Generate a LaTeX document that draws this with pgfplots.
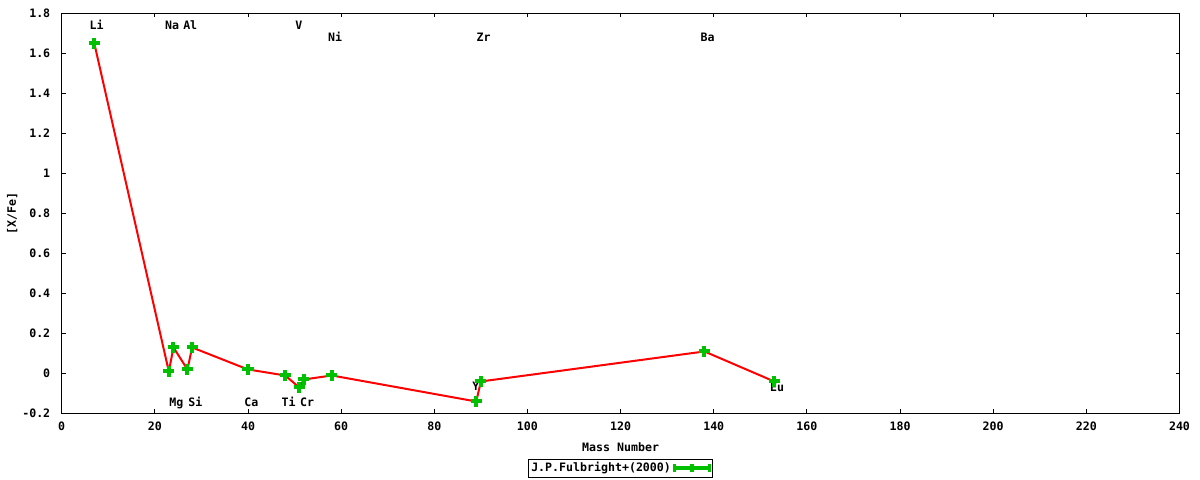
\documentclass[border=0pt]{standalone}
\usepackage{pgfplots}
\pgfplotsset{compat=1.18}
\usepackage{pgfplotstable}
\usepackage{fontspec}
\setmainfont{DejaVu Sans Mono}
\definecolor{ggreen}{RGB}{0,192,0}
\newcommand\gf{\fontsize{5.8}{7}\selectfont\bfseries}
\tikzset{lbl/.style={font=\gf, anchor=base}}
\pgfplotstableread{
x y
7 1.65
23 0.01
24 0.13
27 0.02
28 0.13
40 0.02
48 -0.01
51 -0.07
52 -0.03
58 -0.01
89 -0.14
90 -0.04
138 0.11
153 -0.04
}\fulbright
\begin{document}
\begin{tikzpicture}
\path[use as bounding box] (-30.85pt,-33.25pt) rectangle (569.15pt,206.75pt);
\begin{axis}[
  at={(0,0)}, anchor=south west, scale only axis,
  width=558.9pt, height=200.1pt,
  xmin=0, xmax=240, ymin=-0.2, ymax=1.8,
  xtick={0,20,...,240},
  ytick={-0.2,0,0.2,0.4,0.6,0.8,1,1.2,1.4,1.6,1.8},
  tick align=inside, major tick length=2pt,
  axis line style={line width=0.6pt},
  tick style={black, line width=0.5pt},
  /pgf/number format/assume math mode=true,
  /pgf/number format/fixed,
  tick label style={font=\gf},
  xticklabel style={anchor=base, yshift=-8.75pt},
  yticklabel style={anchor=east, xshift=-2.2pt},
  xlabel={Mass Number}, ylabel={[X/Fe]},
  label style={font=\gf},
  xlabel style={at={(axis description cs:0.5,-0.083)}, anchor=center},
  ylabel style={at={(axis description cs:-0.0442,0.5)}, anchor=center},
  legend plot pos=right,
  legend style={at={(axis description cs:0.5,-0.137)}, anchor=center,
    draw=black, line width=0.5pt, inner sep=0.5pt, font=\gf,
    nodes={inner sep=0.8pt}},
  legend image code/.code={
    \draw[ggreen, line width=2pt] (0pt,0pt) -- (17.5pt,0pt);
    \draw[ggreen, line width=1.6pt] (0pt,-2pt) -- (0pt,2pt) (17.5pt,-2pt) -- (17.5pt,2pt);
    \draw[ggreen, line width=1.8pt] (8.75pt,-2pt) -- (8.75pt,2pt);
  },
]
\node[lbl] at (axis cs:7.5,1.7175) {Li};
\node[lbl] at (axis cs:23.7,1.7175) {Na};
\node[lbl] at (axis cs:27.6,1.7175) {Al};
\node[lbl] at (axis cs:50.9,1.7175) {V};
\node[lbl] at (axis cs:58.7,1.659) {Ni};
\node[lbl] at (axis cs:90.6,1.659) {Zr};
\node[lbl] at (axis cs:138.7,1.659) {Ba};
\node[lbl] at (axis cs:24.6,-0.166) {Mg};
\node[lbl] at (axis cs:28.7,-0.166) {Si};
\node[lbl] at (axis cs:40.7,-0.166) {Ca};
\node[lbl] at (axis cs:48.7,-0.166) {Ti};
\node[lbl] at (axis cs:52.7,-0.166) {Cr};
\node[lbl] at (axis cs:88.9,-0.086) {Y};
\node[lbl] at (axis cs:153.6,-0.089) {Eu};
\addplot[red, line width=1pt, forget plot] table {\fulbright};
\addplot[only marks, mark=+, mark size=2.8pt, ggreen, line width=2pt] table {\fulbright};
\addlegendentry{J.P.Fulbright+(2000)}
\end{axis}
\end{tikzpicture}
\end{document}
